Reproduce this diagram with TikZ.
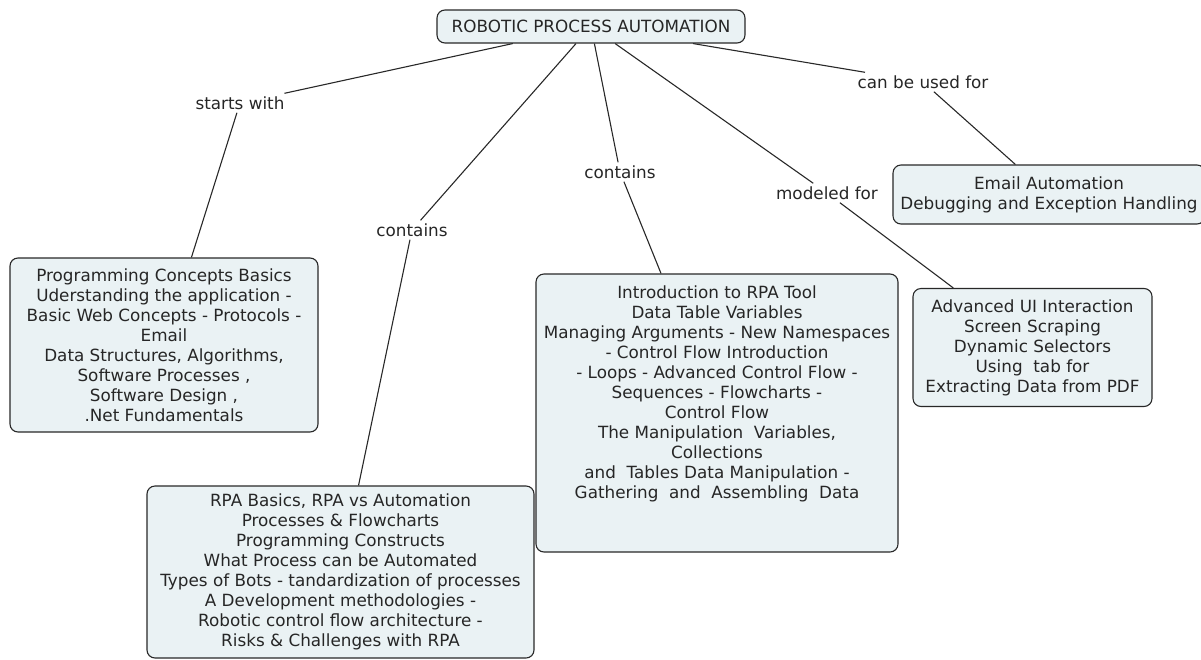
\documentclass[tikz,border=0pt]{standalone}
\usepackage{fontspec}
\setmainfont{DejaVu Sans}
\definecolor{boxfill}{RGB}{234,242,244}
\definecolor{edge}{RGB}{40,40,40}
\newcommand{\boxtext}[4]{\parbox[c][#2pt][#3]{#1pt}{\centering #4\par}}
\begin{document}
\begin{tikzpicture}[x=1pt,y=-1pt,
  every node/.style={font=\fontsize{16.8}{20}\selectfont, text=black!85},
  concept/.style={draw=edge, line width=1.1pt, fill=boxfill, rounded corners=8pt, inner sep=0pt},
  linklabel/.style={inner sep=3pt},
  link/.style={draw=edge, line width=1.1pt}]
\useasboundingbox (0,0) rectangle (1201,659);
\clip (0,0) rectangle (1201,659);
\node[concept] (root) at (591,26.5) {\boxtext{308}{33}{c}{ROBOTIC PROCESS AUTOMATION}};
\node[concept] (b1) at (164,345) {\boxtext{308}{174}{c}{Programming Concepts Basics\\Uderstanding the application -\\Basic Web Concepts - Protocols -\\Email\\Data Structures, Algorithms,\\Software Processes ,\\Software Design ,\\.Net Fundamentals}};
\node[concept] (b2) at (340.5,572) {\boxtext{387}{172}{c}{RPA Basics, RPA vs Automation\\Processes \& Flowcharts\\Programming Constructs\\What Process can be Automated\\Types of Bots - tandardization of processes\\A Development methodologies -\\Robotic control flow architecture -\\Risks \& Challenges with RPA}};
\node[concept] (b3) at (717,413) {\boxtext{362}{278}{t}{\vspace{12pt}Introduction to RPA Tool\\Data Table Variables\\Managing Arguments - New Namespaces\\- Control Flow Introduction\\- Loops - Advanced Control Flow -\\Sequences - Flowcharts -\\Control Flow\\The Manipulation\ \ Variables,\\Collections\\and\ \ Tables Data Manipulation -\\Gathering\ \ and\ \ Assembling\ \ Data}};
\node[concept] (b4) at (1049,194.5) {\boxtext{312}{59}{c}{Email Automation\\Debugging and Exception Handling}};
\node[concept] (b5) at (1032.5,347.5) {\boxtext{239}{118}{c}{Advanced UI Interaction\\Screen Scraping\\Dynamic Selectors\\Using\ \ tab for\\Extracting Data from PDF}};
\node[linklabel] (l1) at (240,103) {starts with};
\node[linklabel] (l2) at (412,230) {contains};
\node[linklabel] (l3) at (620,172) {contains};
\node[linklabel] (l4) at (827,193) {modeled for};
\node[linklabel] (l5) at (923,82) {can be used for};
\draw[link] (root) -- (l1);
\draw[link] (l1) -- (b1);
\draw[link] (root) -- (l2);
\draw[link] (l2) -- (b2);
\draw[link] (root) -- (l3);
\draw[link] (l3) -- (b3);
\draw[link] (root) -- (l4);
\draw[link] (l4) -- (b5);
\draw[link] (root) -- (l5);
\draw[link] (l5) -- (b4);
\end{tikzpicture}
\end{document}
